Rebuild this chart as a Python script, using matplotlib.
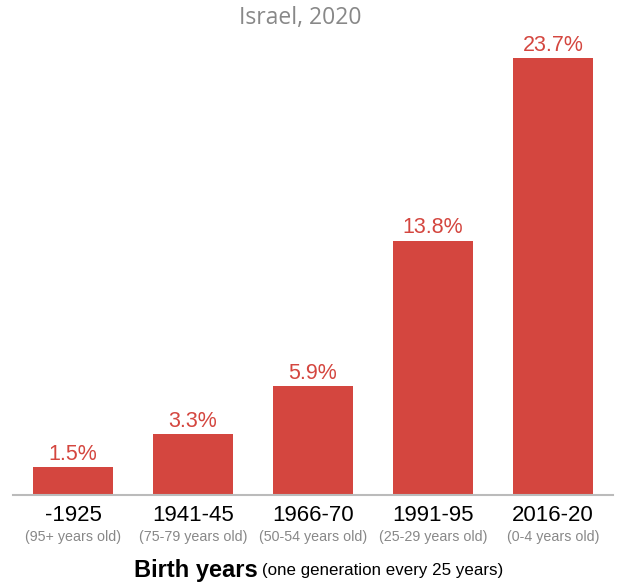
import matplotlib.pyplot as plt

years = ['-1925', '1941-45', '1966-70', '1991-95', '2016-20']
ages = ['(95+ years old)', '(75-79 years old)', '(50-54 years old)',
        '(25-29 years old)', '(0-4 years old)']
shares = [1.5, 3.3, 5.9, 13.8, 23.7]

red = '#d4463f'
W, H = 617, 585

fig = plt.figure(figsize=(W / 100, H / 100), dpi=100)
ax = fig.add_axes([13 / W, 90 / H, 600 / W, 437 / H])

x = range(len(years))
ax.bar(x, shares, width=0.67, color=red, zorder=2)
ax.set_xlim(-0.5, len(years) - 0.5)
ax.set_ylim(0, max(shares))

for i, v in enumerate(shares):
    ax.annotate(f'{v}%', (i, v), xytext=(0, 1.5), textcoords='offset points',
                ha='center', va='bottom', color=red, fontsize=15.5,
                family='Liberation Sans', clip_on=False)
    ax.annotate(years[i], (i, 0), xytext=(0, -15), textcoords='offset points',
                ha='center', va='center', color='black', fontsize=16,
                family='Liberation Sans', annotation_clip=False)
    ax.annotate(ages[i], (i, 0), xytext=(0, -30), textcoords='offset points',
                ha='center', va='center', color='#888888', fontsize=10.3,
                family='Liberation Sans', annotation_clip=False)

for s in ['top', 'right', 'left']:
    ax.spines[s].set_visible(False)
ax.spines['bottom'].set_color('#bbbbbb')
ax.spines['bottom'].set_linewidth(1.5)
ax.set_xticks([])
ax.set_yticks([])

fig.text(300 / W, 1 - 18 / H, 'Israel, 2020', ha='center', va='center',
         fontsize=16.5, color='#888888', family='Open Sans')
fig.text(258 / W, 1 - 570 / H, 'Birth years', ha='right', va='center',
         fontsize=17, fontweight='bold', family='Liberation Sans')
fig.text(262 / W, 1 - 571 / H, '(one generation every 25 years)', ha='left',
         va='center', fontsize=12.2, family='Liberation Sans')

fig.savefig('out.png', dpi=100)
